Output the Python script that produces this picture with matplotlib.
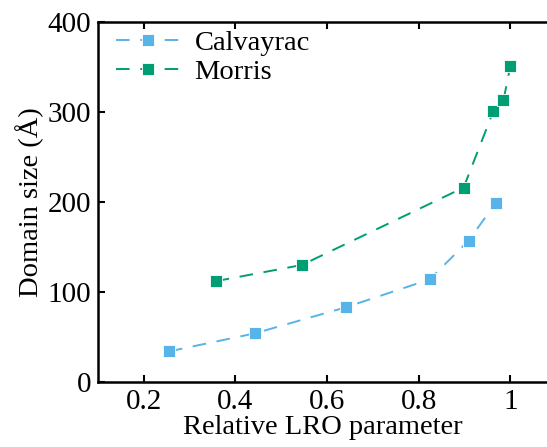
import matplotlib
matplotlib.use("Agg")
import matplotlib.pyplot as plt

calv_x = [0.255, 0.442, 0.641, 0.824, 0.909, 0.968]
calv_y = [34, 54, 83, 114, 157, 199]
morris_x = [0.357, 0.545, 0.898, 0.963, 0.985, 1.0]
morris_y = [112, 130, 216, 301, 313, 351]
xticks = [0.2, 0.4, 0.6, 0.8, 1.0]
xticklabels = ["0.2", "0.4", "0.6", "0.8", "1"]
yticks = [0, 100, 200, 300, 400]

plt.rcParams['font.family'] = ['Liberation Serif', 'DejaVu Serif']

fig = plt.figure(figsize=(5.47, 4.47), dpi=100)
ax = fig.add_axes([0.179, 0.1454, 0.821, 0.8054])

blue = '#56B4E9'
green = '#009E73'
ax.plot(calv_x, calv_y, linestyle=(0, (7, 5.5)), color=blue, lw=1.4,
        marker='s', ms=8, markeredgecolor='white', markeredgewidth=0.6, label='Calvayrac')
ax.plot(morris_x, morris_y, linestyle=(0, (7, 5.5)), color=green, lw=1.4,
        marker='s', ms=8, markeredgecolor='white', markeredgewidth=0.6, label='Morris')

ax.set_xlim(0.1, 1.08)
ax.set_ylim(0, 400)
ax.set_xticks(xticks)
ax.set_xticklabels(xticklabels)
ax.set_yticks(yticks)
ax.tick_params(direction='in', length=5, width=1.5, labelsize=21, top=True, right=False, pad=5)
for s in ['left', 'bottom', 'top']:
    ax.spines[s].set_linewidth(1.8)
ax.spines['right'].set_visible(False)

ax.set_xlabel('Relative LRO parameter', fontsize=20.5, labelpad=0)
ax.set_ylabel('Domain size (Å)', fontsize=20.5, labelpad=2)

ax.legend(loc='upper left', bbox_to_anchor=(0.022, 1.0), frameon=False, fontsize=20.5,
          handlelength=2.2, borderaxespad=0.05, borderpad=0.25, labelspacing=0.1,
          handletextpad=0.55)

fig.savefig('out.png', dpi=100)
